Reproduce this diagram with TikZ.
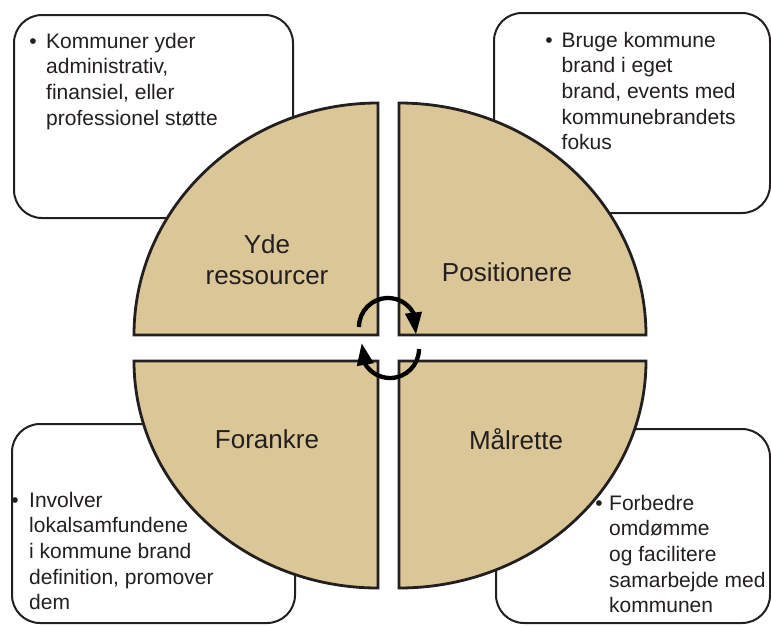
\documentclass[tikz,border=0pt]{standalone}
\usepackage{fontspec}
\setmainfont{Liberation Sans}
\usetikzlibrary{arrows.meta,bending}
\definecolor{tan}{RGB}{219,198,151}
\definecolor{ink}{RGB}{35,31,32}
\tikzset{
  infobox/.style={draw=ink, line width=2pt, rounded corners=28pt, fill=white},
  quad/.style={draw=ink, line width=2.8pt, fill=tan, line join=miter},
  boxtext/.style={anchor=base west, inner sep=0pt, text=ink, font=\fontsize{21}{25.7}\selectfont},
  bul/.style={anchor=base, inner sep=0pt, text=ink, font=\fontsize{21}{25.7}\selectfont},
  lbl/.style={anchor=base, inner sep=0pt, text=ink, font=\fontsize{26}{31}\selectfont},
  cyc/.style={line width=4.3pt, draw=black, -{Triangle[length=22pt,width=16pt,flex]}}
}
\begin{document}
\begin{tikzpicture}[x=1pt,y=1pt]
\useasboundingbox (0,0) rectangle (771,-625);
% info boxes
\draw[infobox] (14,-15) rectangle (293,-218);
\draw[infobox] (494,-13) rectangle (770,-213);
\draw[infobox] (12,-424) rectangle (295,-623);
\draw[infobox] (496,-429) rectangle (770,-623);
% quadrants
\draw[quad] (378,-335) -- (134,-335) arc[start angle=180, end angle=90, x radius=244, y radius=232] -- cycle;
\draw[quad] (399,-335) -- (399,-103) arc[start angle=90, end angle=0, x radius=247, y radius=232] -- cycle;
\draw[quad] (378,-361) -- (134,-361) arc[start angle=180, end angle=270, x radius=244, y radius=227] -- cycle;
\draw[quad] (399,-361) -- (646,-361) arc[start angle=0, end angle=-90, x radius=247, y radius=227] -- cycle;
% labels
\node[lbl] (yde) at (267,-253) {\begin{tabular}[t]{@{}c@{}}Yde\\ressourcer\end{tabular}};
\node[lbl] (pos) at (507,-281) {Positionere};
\node[lbl] (for) at (267,-448) {Forankre};
\node[lbl] (maal) at (516,-449) {Målrette};
% cycle arrows
\draw[cyc] (359,-327) arc[start angle=180, end angle=-15, radius=29];
\draw[cyc] (419,-349) arc[start angle=0, end angle=-192, radius=29];
% box texts
\node[bul] (b1) at (33,-48) {•};
\node[boxtext] (t1) at (46,-48) {\begin{tabular}[t]{@{}l@{}}Kommuner yder\\administrativ,\\finansiel, eller\\professionel støtte\end{tabular}};
\node[bul] (b2) at (549,-47) {•};
\node[boxtext] (t2) at (561.5,-47) {\begin{tabular}[t]{@{}l@{}}Bruge kommune\\brand i eget\\brand, events med\\kommunebrandets\\fokus\end{tabular}};
\node[bul] (b3) at (15,-507) {•};
\node[boxtext] (t3) at (29,-507) {\begin{tabular}[t]{@{}l@{}}Involver\\lokalsamfundene\\i kommune brand\\definition, promover\\dem\end{tabular}};
\node[bul] (b4) at (599,-510) {•};
\node[boxtext] (t4) at (609,-510) {\begin{tabular}[t]{@{}l@{}}Forbedre\\omdømme\\og facilitere\\samarbejde med\\kommunen\end{tabular}};
\end{tikzpicture}
\end{document}
